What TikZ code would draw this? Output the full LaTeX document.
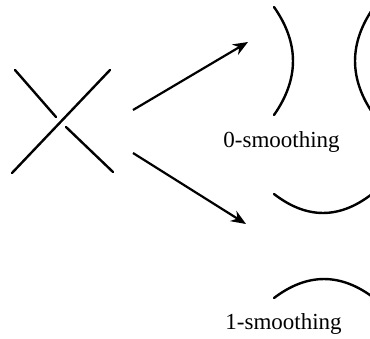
\documentclass[tikz,border=0pt]{standalone}
\usepackage{fontspec}
\setmainfont{Liberation Serif}
\usepackage{tikz}
\usetikzlibrary{arrows.meta,positioning,calc}

\begin{document}
\begin{tikzpicture}[
  x=0.5pt, y=-0.5pt,
  strand/.style={line width=1.2pt,line cap=round},
  arr/.style={-{Stealth[length=7.5pt,width=6pt]},line width=1.1pt},
  lbl/.style={font=\fontsize{11.5}{13}\selectfont,inner sep=0pt,anchor=base west}
]
\useasboundingbox (0,0) rectangle (370,338);
\clip (0,0) rectangle (370,338);
% crossing
\coordinate (ovA) at (12,173);
\coordinate (ovB) at (110,70);
\coordinate (unA) at (15,70);
\coordinate (unB) at (56,117);
\coordinate (unC) at (66,127);
\coordinate (unD) at (113,172);
\draw[strand] (ovA) -- (ovB);
\draw[strand] (unA) -- (unB);
\draw[strand] (unC) -- (unD);
% arrows
\coordinate (upS) at (133,110);
\coordinate (upE) at (248,42);
\coordinate (loS) at (133,153);
\coordinate (loE) at (246,224);
\draw[arr] (upS) -- (upE);
\draw[arr] (loS) -- (loE);
% 0-smoothing
\draw[strand] (274,7) .. controls (299.3,43) and (299.3,79) .. (274,115);
\draw[strand] (374,7) .. controls (348.7,43) and (348.7,79) .. (374,115);
\node[lbl] (zero) at (223,147) {0-smoothing};
% 1-smoothing
\draw[strand] (274,194) .. controls (306.7,219.3) and (339.3,219.3) .. (372,194);
\draw[strand] (274,298) .. controls (307.3,272.7) and (340.7,272.7) .. (374,298);
\node[lbl] (one) at (225,329) {1-smoothing};
\end{tikzpicture}
\end{document}
